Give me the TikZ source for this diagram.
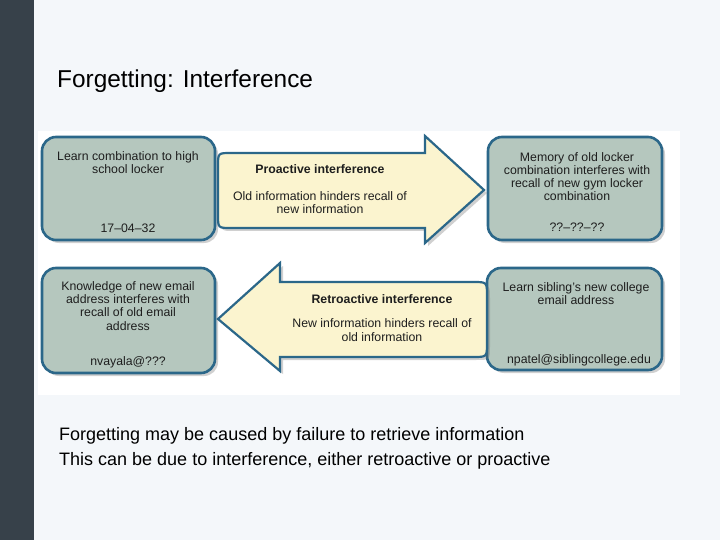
\documentclass[tikz,border=0pt]{standalone}
\usepackage{fontspec}
\setmainfont{Liberation Sans}
\usetikzlibrary{shadows}
\definecolor{slidebg}{HTML}{F4F7FA}
\definecolor{barcol}{HTML}{37414A}
\definecolor{boxfill}{HTML}{B5C7BE}
\definecolor{boxline}{HTML}{2B6789}
\definecolor{arrowfill}{HTML}{FBF4CF}
\definecolor{txt}{HTML}{1E1E1E}
\tikzset{
  shadowed/.style={drop shadow={shadow xshift=3pt,shadow yshift=-3pt,opacity=0.3,fill=black!60}},
  memorybox/.style={draw=boxline,line width=2.6pt,fill=boxfill,rounded corners=14pt,shadowed,inner sep=0pt},
  arrowshape/.style={draw=boxline,line width=2.2pt,fill=arrowfill,line join=miter,shadowed},
  boxtext/.style={font=\fontsize{12.3}{13.3}\selectfont,text=txt,align=center,inner sep=0pt,anchor=base},
  bottomtext/.style={font=\fontsize{18}{22}\selectfont,text=black,inner sep=0pt,anchor=base west}
}
\begin{document}
\begin{tikzpicture}[x=1pt,y=-1pt]
\useasboundingbox (0,0) rectangle (720,540);
\fill[slidebg] (0,0) rectangle (720,540);
\fill[barcol] (0,0) rectangle (34,540);
\fill[white] (38,131) rectangle (680,395);
\node[font=\fontsize{24.4}{29}\selectfont,inner sep=0pt,anchor=base west] (title) at (57,88) {Forgetting: Interference};
% memory boxes
\node[memorybox,minimum width=173pt,minimum height=103pt] (tl) at (128.5,188.5) {};
\node[memorybox,minimum width=174pt,minimum height=103pt] (tr) at (575,188.5) {};
\node[memorybox,minimum width=173pt,minimum height=105pt] (bl) at (128.5,320.5) {};
\node[memorybox,minimum width=175pt,minimum height=102pt] (br) at (574.5,319) {};
% arrows
\draw[arrowshape] (425,153) -- (231,153) .. controls (218,153) .. (218,166) -- (218,215) .. controls (218,228) .. (231,228) -- (425,228) -- (425,243) -- (484,190) -- (425,136) -- cycle;
\draw[arrowshape] (280,282) -- (473,282) .. controls (487,282) .. (487,296) -- (487,343) .. controls (487,357) .. (473,357) -- (280,357) -- (280,371) -- (218,319) -- (280,263) -- cycle;
% texts (anchor base = baseline of last line)
\node[boxtext] (tlA) at (128,174) {Learn combination to high\\school locker};
\node[boxtext] (tlB) at (128,233) {17--04--32};
\node[boxtext] (paT) at (320,174) {\bfseries Proactive interference};
\node[boxtext] (paD) at (320,213.5) {Old information hinders recall of\\new information};
\node[boxtext] (trA) at (577,201) {Memory of old locker\\combination interferes with\\recall of new gym locker\\combination};
\node[boxtext] (trB) at (577,232) {??--??--??};
\node[boxtext] (blA) at (128,330) {Knowledge of new email\\address interferes with\\recall of old email\\address};
\node[boxtext] (blB) at (128,365) {nvayala@???};
\node[boxtext] (raT) at (382,303) {\bfseries Retroactive interference};
\node[boxtext] (raD) at (382,341) {New information hinders recall of\\old information};
\node[boxtext] (brA) at (576,304.5) {Learn sibling's new college\\email address};
\node[boxtext] (brB) at (579,363) {npatel@siblingcollege.edu};
% bottom text
\node[bottomtext] (l1) at (59,440) {Forgetting may be caused by failure to retrieve information};
\node[bottomtext] (l2) at (59,465) {This can be due to interference, either retroactive or proactive};
\end{tikzpicture}
\end{document}
